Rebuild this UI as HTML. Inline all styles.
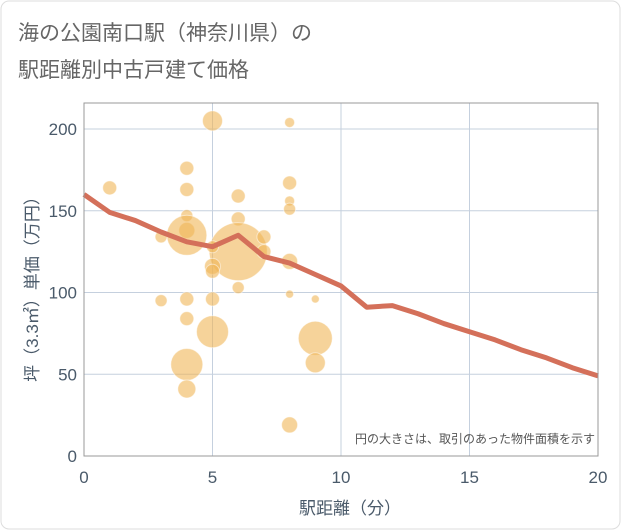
<!DOCTYPE html>
<html><head><meta charset="utf-8"><style>
body{margin:0;background:#fff;}
svg{display:block;font-family:"Liberation Sans","Noto Sans CJK JP",sans-serif;}
</style></head><body>
<svg width="621" height="530">
<rect x="1" y="1" width="619" height="528" rx="8" fill="#fff" stroke="#ddd"/>
<text x="18" y="40" font-size="21" fill="#666">海の公園南口駅（神奈川県）の</text>
<text x="18" y="77" font-size="21" fill="#666">駅距離別中古戸建て価格</text>
<g id="grid"></g>
<g id="bubbles"></g>
<g id="line"></g>
<rect x="84" y="103" width="514" height="353" fill="none" stroke="#999"/>
<g id="ticks"></g>
<text x="595" y="443" font-size="12" fill="#555" text-anchor="end">円の大きさは、取引のあった物件面積を示す</text>
<text x="350" y="514" font-size="17" fill="#4a5a6a" text-anchor="middle">駅距離（分）</text>
<text transform="translate(38,285) rotate(-90)" font-size="17" fill="#4a5a6a" text-anchor="middle">坪（3.3㎡）単価（万円）</text>
</svg>
<script>
const xTicks=[0,5,10,15,20];
const yTicks=[0,50,100,150,200];
const bx=[1,4,4,4,4,4,3,5,6,6,8,8,8,8,8,8,8,6,7,7,5,5,5,5,5,6,3,4,4,4,4,9,9,9];
const by=[164,176,163,147,138,135,134,205,159,145,204,167,156,151,119,99,19,125,134,125,128,116,113,96,76,103,95,96,84,56,41,96,72,57];
const br=[7,7,7,6,8,20,6,10,7,7,5,7,5,6,8,4,8,29,7,7,6,8,7,7,16,6,6,7,7,16,9,4,17,10];
const lx=[0,1,2,3,4,5,6,7,8,9,10,11,12,13,14,15,16,17,18,19,20];
const ly=[160,149,144,137,131,128,135,122,118,111,104,91,92,87,81,76,71,65,60,54,49];
const X=v=>84+v*25.7, Y=v=>456-v*1.635;
const NS="http://www.w3.org/2000/svg";
function mk(t,a,p){const e=document.createElementNS(NS,t);for(const k in a)e.setAttribute(k,a[k]);p.appendChild(e);return e;}
const g=document.getElementById('grid'),t=document.getElementById('ticks');
xTicks.forEach(v=>{const l=mk('line',{x1:X(v),x2:X(v),y1:103,y2:456,stroke:'#c5d0de'},g);


const s=mk('text',{x:X(v),y:483,'font-size':17,fill:'#4a5a6a','text-anchor':'middle'},t);s.textContent=v;

});
yTicks.forEach(v=>{const l=mk('line',{x1:84,x2:598,y1:Y(v),y2:Y(v),stroke:'#c5d0de'},g);


const s=mk('text',{x:77,y:Y(v)+6,'font-size':17,fill:'#4a5a6a','text-anchor':'end'},t);s.textContent=v;

});
const b=document.getElementById('bubbles');
bx.forEach((v,i)=>{const c=mk('circle',{cx:X(v),cy:Y(by[i]),r:br[i],fill:'#f0b556','fill-opacity':0.6,stroke:'#fff','stroke-opacity':0.5},b);

});
const p=mk('polyline',{points:lx.map((v,i)=>X(v)+','+Y(ly[i])).join(' '),fill:'none',stroke:'#d4705a','stroke-width':5,'stroke-linejoin':'round'},document.getElementById('line'));


</script>
</body></html>
